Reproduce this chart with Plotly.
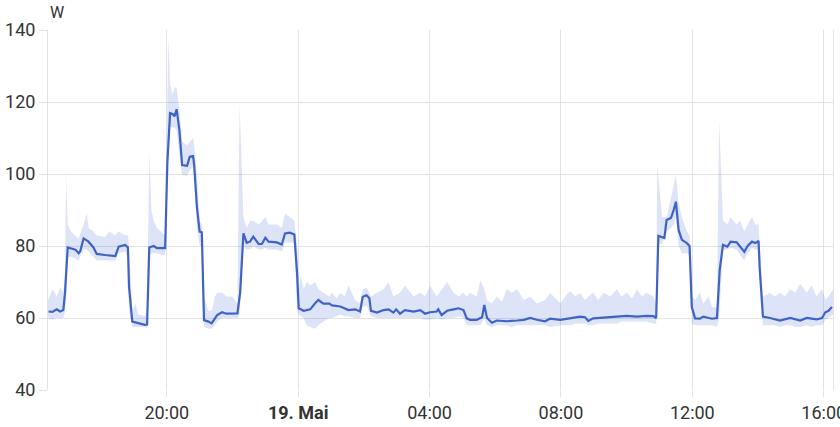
import plotly.graph_objects as go

# mean power (W), times HH:MM; times from 16:20 on are 18 May, earlier ones 19 May
mean_time = ["16:24", "16:31", "16:39", "16:45", "16:51", "16:54", "16:59", "17:05", "17:13", "17:19",
             "17:22", "17:28", "17:37", "17:46", "17:52", "18:07", "18:26", "18:32", "18:44", "18:49",
             "18:51", "18:57", "19:08", "19:20", "19:24", "19:28", "19:36", "19:42", "19:57", "20:01",
             "20:06", "20:11", "20:14", "20:18", "20:23", "20:28", "20:37", "20:42", "20:48", "20:50",
             "20:55", "21:00", "21:04", "21:08", "21:16", "21:22", "21:32", "21:41", "21:49", "22:09",
             "22:14", "22:20", "22:26", "22:32", "22:38", "22:48", "22:54", "23:00", "23:06", "23:21",
             "23:30", "23:36", "23:45", "23:53", "23:58", "00:01", "00:10", "00:22", "00:31", "00:37",
             "00:46", "00:57", "01:02", "01:17", "01:32", "01:44", "01:53", "01:58", "02:05", "02:10",
             "02:13", "02:24", "02:36", "02:45", "02:54", "02:59", "03:06", "03:15", "03:31", "03:43",
             "03:52", "04:01", "04:13", "04:16", "04:22", "04:32", "04:44", "04:53", "05:02", "05:08",
             "05:14", "05:26", "05:36", "05:40", "05:45", "05:54", "06:03", "06:21", "06:40", "06:52",
             "07:04", "07:16", "07:31", "07:40", "07:59", "08:17", "08:35", "08:44", "08:50", "08:59",
             "09:18", "09:42", "10:00", "10:19", "10:36", "10:49", "10:54", "10:58", "11:05", "11:09",
             "11:13", "11:21", "11:26", "11:30", "11:35", "11:41", "11:50", "11:55", "11:59", "12:05",
             "12:14", "12:20", "12:36", "12:45", "12:50", "12:56", "13:04", "13:10", "13:21", "13:27",
             "13:35", "13:41", "13:49", "13:55", "14:01", "14:03", "14:09", "14:22", "14:40", "14:59",
             "15:17", "15:29", "15:47", "15:57", "16:03", "16:09", "16:15"]
mean_w = [61.8, 61.7, 62.4, 61.8, 62.2, 66.9, 79.6, 79.3, 79.0, 78.0,
          78.6, 82.1, 81.2, 79.6, 77.8, 77.5, 77.2, 79.8, 80.3, 79.6,
          68.7, 59.0, 58.5, 58.1, 58.2, 79.6, 80.0, 79.4, 79.4, 103.0,
          116.9, 116.6, 116.0, 118.0, 112.2, 102.5, 102.3, 104.8, 105.0, 102.5,
          90.9, 84.0, 83.8, 59.4, 59.0, 58.5, 60.8, 61.6, 61.2, 61.3,
          67.0, 83.5, 80.9, 81.2, 82.6, 80.5, 80.6, 82.3, 81.2, 81.0,
          80.4, 83.5, 83.7, 83.2, 72.4, 62.7, 62.0, 62.4, 64.1, 65.0,
          64.0, 64.0, 63.5, 63.2, 62.2, 62.4, 61.8, 65.9, 66.3, 65.5,
          62.0, 61.5, 62.2, 62.4, 61.5, 62.4, 61.2, 62.2, 61.8, 62.2,
          61.2, 61.6, 61.8, 62.4, 60.8, 62.0, 62.4, 62.7, 62.2, 59.9,
          59.5, 59.5, 60.2, 63.6, 60.0, 58.7, 59.3, 59.1, 59.3, 59.5,
          60.0, 59.5, 59.1, 59.8, 59.5, 60.0, 60.4, 60.2, 59.2, 59.9,
          60.1, 60.4, 60.6, 60.4, 60.6, 60.5, 60.0, 82.8, 82.5, 82.2,
          87.2, 87.8, 90.0, 92.3, 84.4, 81.7, 80.8, 80.0, 63.1, 59.9,
          59.8, 60.4, 59.8, 60.0, 73.3, 80.3, 79.8, 81.2, 81.0, 79.9,
          78.4, 80.0, 81.2, 80.8, 81.4, 74.0, 60.4, 60.0, 59.3, 60.0,
          59.3, 60.0, 59.6, 60.0, 61.6, 62.0, 63.1]

# min / max band
band_time = ["16:23", "16:31", "16:39", "16:45", "16:51", "16:54", "16:56", "16:59", "17:05", "17:13",
             "17:19", "17:28", "17:34", "17:37", "17:46", "17:52", "18:07", "18:15", "18:26", "18:32",
             "18:44", "18:49", "18:51", "18:57", "19:03", "19:08", "19:20", "19:24", "19:28", "19:32",
             "19:36", "19:42", "19:50", "19:57", "20:01", "20:03", "20:06", "20:11", "20:14", "20:18",
             "20:23", "20:28", "20:37", "20:42", "20:48", "20:50", "20:55", "21:00", "21:04", "21:08",
             "21:16", "21:22", "21:28", "21:32", "21:41", "21:49", "22:00", "22:09", "22:13", "22:20",
             "22:26", "22:32", "22:38", "22:48", "22:54", "23:00", "23:06", "23:21", "23:30", "23:36",
             "23:45", "23:53", "23:58", "00:01", "00:05", "00:10", "00:16", "00:22", "00:31", "00:37",
             "00:46", "00:57", "01:02", "01:10", "01:17", "01:25", "01:32", "01:44", "01:53", "01:58",
             "02:05", "02:13", "02:24", "02:36", "02:45", "02:54", "03:06", "03:15", "03:31", "03:43",
             "03:52", "04:01", "04:13", "04:22", "04:32", "04:44", "04:53", "05:02", "05:08", "05:14",
             "05:26", "05:33", "05:40", "05:45", "05:54", "06:03", "06:12", "06:21", "06:30", "06:40",
             "06:52", "07:04", "07:16", "07:31", "07:40", "07:59", "08:08", "08:17", "08:26", "08:35",
             "08:44", "08:50", "08:59", "09:08", "09:18", "09:30", "09:42", "09:51", "10:00", "10:10",
             "10:19", "10:28", "10:36", "10:49", "10:54", "10:56", "11:05", "11:13", "11:21", "11:26",
             "11:30", "11:35", "11:41", "11:50", "11:55", "11:59", "12:05", "12:14", "12:20", "12:30",
             "12:36", "12:45", "12:49", "12:56", "13:04", "13:10", "13:21", "13:27", "13:35", "13:41",
             "13:49", "13:55", "14:01", "14:09", "14:22", "14:31", "14:40", "14:49", "14:59", "15:08",
             "15:17", "15:29", "15:38", "15:47", "15:57", "16:03", "16:09", "16:17"]
band_lo = [60, 59.5, 60, 60, 60, 62, 64, 77, 77, 76.5,
           76, 79, 79, 78.5, 77, 76, 76, 76, 76, 78,
           78.5, 77, 62, 57.5, 57.5, 57.5, 57.5, 57, 77, 78,
           78, 78, 77.5, 77.5, 100, 112, 113, 113, 113, 112,
           105, 99.7, 99.5, 101, 102, 99, 85, 80, 80, 57.5,
           57, 57, 58, 59, 60, 60, 60, 60, 61, 80,
           79, 79, 80, 79, 79, 79.5, 79, 79, 78.5, 81,
           81, 81, 62, 61, 60.5, 60, 58, 57.5, 57, 58,
           59, 60, 60, 60.5, 61, 60.5, 60.5, 60, 60, 63,
           63.5, 60.5, 60, 60, 60, 60, 60, 60, 60, 60,
           59.5, 59.5, 60, 59.5, 60, 60, 60.5, 60, 58, 58,
           58, 58, 60, 58, 57.5, 58, 58, 58, 57.5, 58,
           58, 58, 58, 58, 57.5, 58, 58, 58, 58.5, 58.5,
           58.5, 58, 58, 58.5, 58.5, 58.5, 58.5, 59, 59, 59,
           59, 59, 59, 58.5, 58.5, 81, 80.5, 84, 85, 86,
           88, 80, 78, 78, 77.5, 58.5, 58, 58, 58, 58,
           58, 57.5, 60, 79, 79, 79.5, 79, 77.5, 76, 78,
           79.5, 79, 79, 58, 58, 58, 57.5, 58, 58, 57.5,
           57.5, 58, 57.5, 58, 58, 59.5, 60, 61]
band_hi = [65, 68, 66, 68.5, 67, 72, 100, 86, 84, 83,
           82, 86, 89, 85, 84, 83, 82.5, 84, 83, 84,
           83, 83, 80, 62, 64, 61, 60.5, 62, 106, 90,
           87, 85, 84, 83, 120, 138, 125, 122, 124, 124,
           118, 109, 108, 109, 110, 108, 100, 87, 86, 66,
           62, 62, 66, 67, 67, 66, 66, 64, 119, 88,
           85, 87, 87, 86, 87, 88, 86, 86, 85, 89,
           88, 87, 80, 68, 72, 68, 70, 69, 70, 68,
           67, 66, 67, 65.5, 67, 66, 69, 65, 64, 68,
           68.5, 66, 67, 68, 70, 66, 67, 69, 66, 67,
           66, 69, 66, 68, 70, 67, 66, 67, 66, 67,
           66, 70.5, 68, 65, 64, 66, 64.5, 68, 67, 68,
           65, 66, 64, 65, 67, 64, 66, 67.5, 66, 67,
           65, 66, 67, 65, 67, 66, 68, 66, 67, 65.5,
           68, 66, 67, 66, 64, 102.5, 88, 88, 93, 97,
           99.5, 92, 88, 84, 83, 66, 65, 67, 64, 66,
           63, 63, 115, 87, 86, 88, 86, 87, 84, 86,
           88, 86, 86, 66, 67, 66, 67, 66, 68, 67,
           69.5, 67, 69, 66, 68, 65, 66, 68]

tick_time = ["20:00", "00:00", "04:00", "08:00", "12:00", "16:00"]
tick_text = ["20:00", "<b>19. Mai</b>", "04:00", "08:00", "12:00", "16:00"]


def to_ts(hm):
    day = "2024-05-18" if hm >= "16:20" else "2024-05-19"
    return day + " " + hm + ":00"


mean_x = [to_ts(t) for t in mean_time]
band_x = [to_ts(t) for t in band_time]

line_color = "#3f63c4"
grid = "#e3e3e3"

fig = go.Figure()
fig.add_trace(go.Scatter(
    x=band_x, y=band_hi, mode="lines", line=dict(width=0),
    showlegend=False, hoverinfo="skip"
))
fig.add_trace(go.Scatter(
    x=band_x, y=band_lo, mode="lines", line=dict(width=0),
    fill="tonexty", fillcolor="rgba(66,104,210,0.18)",
    showlegend=False, hoverinfo="skip"
))
fig.add_trace(go.Scatter(
    x=mean_x, y=mean_w, mode="lines",
    line=dict(color=line_color, width=2.2),
    showlegend=False,
    hovertemplate="%{x}<br>%{y} W<extra></extra>"
))

fig.update_xaxes(
    range=[to_ts("16:23"), to_ts("16:17")],
    tickvals=[to_ts(t) for t in tick_time], ticktext=tick_text,
    showgrid=True, gridcolor=grid, gridwidth=1,
    ticks="outside", ticklen=6, tickcolor=grid,
    showline=False, zeroline=False, automargin=False,
    ticklabeloverflow="allow",
    tickfont=dict(size=18, color="#333333")
)
fig.update_yaxes(
    range=[40, 140], tickvals=[40, 60, 80, 100, 120, 140],
    showgrid=True, gridcolor=grid, gridwidth=1,
    ticks="outside", ticklen=8, tickcolor=grid,
    showline=True, mirror=True, linecolor=grid, linewidth=1,
    zeroline=False, automargin=False,
    tickfont=dict(size=18, color="#333333")
)

fig.add_annotation(
    text="W", xref="paper", yref="paper", x=0, y=1,
    xanchor="left", yanchor="bottom", xshift=0, yshift=6,
    showarrow=False, font=dict(size=16, color="#333333")
)

fig.update_layout(
    width=840, height=427,
    margin=dict(l=48, r=7, t=30, b=37),
    paper_bgcolor="white", plot_bgcolor="white",
    font=dict(family="Roboto, sans-serif", color="#333333"),
    hovermode="x"
)

# the default page keeps an 8px body margin; drop it so the figure fills the window
fig.write_html("out.html", config={"displayModeBar": False},
               post_script="document.body.style.margin = '0';")
